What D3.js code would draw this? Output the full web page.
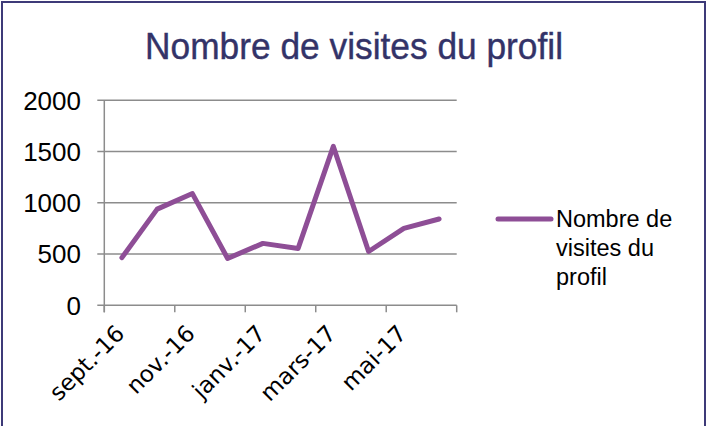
<!DOCTYPE html>
<html>
<head>
<meta charset="utf-8">
<script src="https://cdn.jsdelivr.net/npm/d3@7/dist/d3.min.js"></script>
<style>
  html, body { margin: 0; padding: 0; background: #fff; }
  svg { display: block; }
</style>
</head>
<body>
<svg id="chart" width="707" height="426"></svg>
<script>
const categories = ["sept.-16", "oct.-16", "nov.-16", "déc.-16", "janv.-17", "févr.-17", "mars-17", "avr.-17", "mai-17", "juin-17"];
const visits = [465, 938, 1090, 457, 604, 555, 1550, 525, 750, 842];
const yTicks = [0, 500, 1000, 1500, 2000];
const seriesName = "Nombre de visites du profil";
const titleText = "Nombre de visites du profil";
const legendLines = ["Nombre de", "visites du", "profil"];

const svg = d3.select("#chart");
const W = 707, H = 426;
const plot = { left: 104.3, right: 456.7, top: 100.3, bottom: 305.3 };
const lineColor = "#8e4e96";
const gridColor = "#8c8c8c";
const navy = "#333368";

// border
svg.append("rect")
  .attr("x", 2).attr("y", 2).attr("width", W - 4).attr("height", H + 10)
  .attr("fill", "#fff").attr("stroke", "#3d3a78").attr("stroke-width", 2);

// title
svg.append("text")
  .attr("x", 354).attr("y", 59.3)
  .attr("text-anchor", "middle")
  .attr("font-family", "Liberation Sans, Arial, sans-serif")
  .attr("font-size", 36)
  .attr("fill", navy)
  .attr("stroke", navy).attr("stroke-width", 0.4)
  .attr("textLength", 418).attr("lengthAdjust", "spacingAndGlyphs")
  .text(titleText);

const x = d3.scaleBand().domain(categories).range([plot.left, plot.right]).padding(0);
const y = d3.scaleLinear().domain([0, 2000]).range([plot.bottom, plot.top]);

// gridlines
svg.append("g").selectAll("line").data(yTicks).join("line")
  .attr("x1", plot.left - 7).attr("x2", plot.right)
  .attr("y1", d => y(d)).attr("y2", d => y(d))
  .attr("stroke", gridColor).attr("stroke-width", 1.5);

// y axis line
svg.append("line")
  .attr("x1", plot.left).attr("x2", plot.left)
  .attr("y1", plot.top).attr("y2", plot.bottom + 7)
  .attr("stroke", gridColor).attr("stroke-width", 1.5);

// y labels
svg.append("g").selectAll("text").data(yTicks).join("text")
  .attr("x", 81).attr("y", d => y(d))
  .attr("dy", "0.36em")
  .attr("text-anchor", "end")
  .attr("font-family", "Liberation Sans, Arial, sans-serif")
  .attr("font-size", 26)
  .attr("fill", "#000")
  .text(d => d);

// x tick marks every 2 categories at boundaries
const tickIdx = d3.range(0, categories.length + 1, 2);
svg.append("g").selectAll("line").data(tickIdx).join("line")
  .attr("x1", i => plot.left + i * x.bandwidth())
  .attr("x2", i => plot.left + i * x.bandwidth())
  .attr("y1", plot.bottom).attr("y2", plot.bottom + 7)
  .attr("stroke", gridColor).attr("stroke-width", 1.5);

// x labels every 2 categories at centers
const labelCats = categories.filter((c, i) => i % 2 === 0);
svg.append("g").selectAll("text").data(labelCats).join("text")
  .attr("transform", d => `translate(${x(d) + x.bandwidth() / 2 + 4},${335}) rotate(-45)`)
  .attr("text-anchor", "end")
  .attr("font-family", "DejaVu Sans, Verdana, sans-serif")
  .attr("font-size", 23)
  .attr("fill", "#000")
  .text(d => d);

// line
const line = d3.line()
  .x((d, i) => x(categories[i]) + x.bandwidth() / 2)
  .y(d => y(d));
svg.append("path").datum(visits)
  .attr("d", line)
  .attr("fill", "none")
  .attr("stroke", lineColor)
  .attr("stroke-width", 5)
  .attr("stroke-linejoin", "round")
  .attr("stroke-linecap", "round");

// legend
svg.append("line")
  .attr("x1", 498).attr("x2", 551)
  .attr("y1", 219).attr("y2", 219)
  .attr("stroke", lineColor).attr("stroke-width", 5)
  .attr("stroke-linecap", "round");
const lg = svg.append("text")
  .attr("font-family", "Liberation Sans, Arial, sans-serif")
  .attr("font-size", 23.5)
  .attr("fill", "#000")
  .attr("aria-label", seriesName);
lg.selectAll("tspan").data(legendLines).join("tspan")
  .attr("x", 556)
  .attr("y", (d, i) => 227 + i * 29)
  .text(d => d);
</script>
</body>
</html>
